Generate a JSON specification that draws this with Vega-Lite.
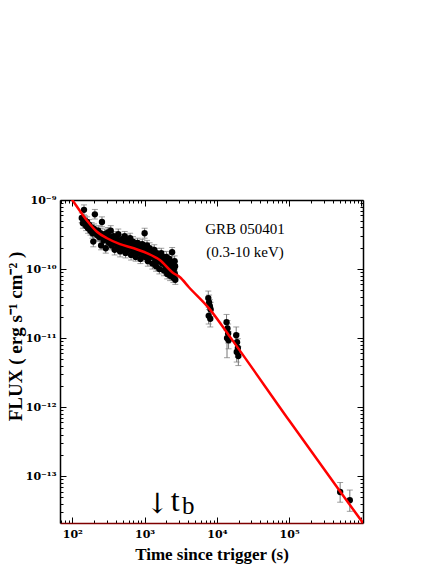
{
  "$schema": "https://vega.github.io/schema/vega-lite/v6.json",
  "width": 303,
  "height": 323,
  "autosize": {"type": "none"},
  "padding": {"left": 60, "top": 200, "right": 73, "bottom": 41},
  "background": "white",
  "config": {
    "view": {"stroke": null},
    "axis": {
      "grid": false,
      "domainColor": "black",
      "domainWidth": 1.5,
      "tickColor": "black",
      "tickWidth": 1,
      "labelFont": "DejaVu Serif",
      "labelFontWeight": "bold",
      "labelFontSize": 11,
      "labelColor": "black",
      "labelBound": false,
      "labelFlush": false,
      "labelOverlap": false,
      "titleFont": "Liberation Serif",
      "titleFontWeight": "bold",
      "titleFontSize": 17,
      "titleColor": "black"
    }
  },
  "datasets": {
    "pts": [
      {"t":135,"f":5.5e-10,"lo":4.7e-10,"hi":6.5e-10},
      {"t":140,"f":4.6e-10,"lo":3.9e-10,"hi":5.4e-10},
      {"t":145,"f":7.2e-10,"lo":6.1e-10,"hi":8.5e-10},
      {"t":150,"f":5.0e-10,"lo":4.25e-10,"hi":5.9e-10},
      {"t":155,"f":4.2e-10,"lo":3.6e-10,"hi":5.0e-10},
      {"t":160,"f":4.8e-10,"lo":4.1e-10,"hi":5.7e-10},
      {"t":165,"f":3.9e-10,"lo":3.3e-10,"hi":4.6e-10},
      {"t":170,"f":4.4e-10,"lo":3.7e-10,"hi":5.2e-10},
      {"t":178,"f":3.6e-10,"lo":3.1e-10,"hi":4.25e-10},
      {"t":185,"f":4.0e-10,"lo":3.4e-10,"hi":4.7e-10},
      {"t":190,"f":3.3e-10,"lo":2.8e-10,"hi":3.9e-10},
      {"t":195,"f":2.5e-10,"lo":2.1e-10,"hi":2.95e-10},
      {"t":200,"f":3.8e-10,"lo":3.2e-10,"hi":4.5e-10},
      {"t":205,"f":6.2e-10,"lo":5.3e-10,"hi":7.3e-10},
      {"t":210,"f":3.4e-10,"lo":2.9e-10,"hi":4.0e-10},
      {"t":220,"f":3.1e-10,"lo":2.6e-10,"hi":3.7e-10},
      {"t":228,"f":3.6e-10,"lo":3.1e-10,"hi":4.25e-10},
      {"t":236,"f":2.9e-10,"lo":2.5e-10,"hi":3.4e-10},
      {"t":245,"f":3.3e-10,"lo":2.8e-10,"hi":3.9e-10},
      {"t":250,"f":2.2e-10,"lo":1.9e-10,"hi":2.6e-10},
      {"t":257,"f":4.8e-10,"lo":4.1e-10,"hi":5.7e-10},
      {"t":262,"f":3.0e-10,"lo":2.55e-10,"hi":3.5e-10},
      {"t":270,"f":2.6e-10,"lo":2.2e-10,"hi":3.1e-10},
      {"t":280,"f":3.2e-10,"lo":2.7e-10,"hi":3.8e-10},
      {"t":290,"f":2.0e-10,"lo":1.7e-10,"hi":2.4e-10},
      {"t":300,"f":2.8e-10,"lo":2.4e-10,"hi":3.3e-10},
      {"t":310,"f":3.4e-10,"lo":2.9e-10,"hi":4.0e-10},
      {"t":320,"f":2.4e-10,"lo":2.0e-10,"hi":2.8e-10},
      {"t":330,"f":2.9e-10,"lo":2.5e-10,"hi":3.4e-10},
      {"t":340,"f":3.6e-10,"lo":3.1e-10,"hi":4.25e-10},
      {"t":350,"f":2.2e-10,"lo":1.9e-10,"hi":2.6e-10},
      {"t":360,"f":2.6e-10,"lo":2.2e-10,"hi":3.1e-10},
      {"t":372,"f":3.0e-10,"lo":2.55e-10,"hi":3.5e-10},
      {"t":385,"f":1.9e-10,"lo":1.6e-10,"hi":2.25e-10},
      {"t":395,"f":2.4e-10,"lo":2.0e-10,"hi":2.8e-10},
      {"t":408,"f":2.8e-10,"lo":2.4e-10,"hi":3.3e-10},
      {"t":420,"f":2.1e-10,"lo":1.8e-10,"hi":2.5e-10},
      {"t":432,"f":3.2e-10,"lo":2.7e-10,"hi":3.8e-10},
      {"t":445,"f":2.5e-10,"lo":2.1e-10,"hi":2.95e-10},
      {"t":458,"f":1.8e-10,"lo":1.5e-10,"hi":2.1e-10},
      {"t":470,"f":2.3e-10,"lo":1.95e-10,"hi":2.7e-10},
      {"t":485,"f":2.7e-10,"lo":2.3e-10,"hi":3.2e-10},
      {"t":500,"f":2.0e-10,"lo":1.7e-10,"hi":2.4e-10},
      {"t":515,"f":2.4e-10,"lo":2.0e-10,"hi":2.8e-10},
      {"t":530,"f":3.0e-10,"lo":2.55e-10,"hi":3.5e-10},
      {"t":545,"f":1.7e-10,"lo":1.45e-10,"hi":2.0e-10},
      {"t":560,"f":2.2e-10,"lo":1.9e-10,"hi":2.6e-10},
      {"t":578,"f":2.6e-10,"lo":2.2e-10,"hi":3.1e-10},
      {"t":595,"f":1.9e-10,"lo":1.6e-10,"hi":2.25e-10},
      {"t":612,"f":2.3e-10,"lo":1.95e-10,"hi":2.7e-10},
      {"t":630,"f":2.8e-10,"lo":2.4e-10,"hi":3.3e-10},
      {"t":650,"f":1.6e-10,"lo":1.35e-10,"hi":1.9e-10},
      {"t":670,"f":2.1e-10,"lo":1.8e-10,"hi":2.5e-10},
      {"t":690,"f":2.5e-10,"lo":2.1e-10,"hi":2.95e-10},
      {"t":710,"f":1.8e-10,"lo":1.5e-10,"hi":2.1e-10},
      {"t":730,"f":2.2e-10,"lo":1.9e-10,"hi":2.6e-10},
      {"t":752,"f":1.5e-10,"lo":1.3e-10,"hi":1.8e-10},
      {"t":775,"f":2.0e-10,"lo":1.7e-10,"hi":2.4e-10},
      {"t":800,"f":2.4e-10,"lo":2.0e-10,"hi":2.8e-10},
      {"t":825,"f":1.7e-10,"lo":1.45e-10,"hi":2.0e-10},
      {"t":850,"f":2.1e-10,"lo":1.8e-10,"hi":2.5e-10},
      {"t":875,"f":1.4e-10,"lo":1.2e-10,"hi":1.65e-10},
      {"t":900,"f":1.9e-10,"lo":1.6e-10,"hi":2.25e-10},
      {"t":930,"f":2.3e-10,"lo":1.95e-10,"hi":2.7e-10},
      {"t":960,"f":1.6e-10,"lo":1.35e-10,"hi":1.9e-10},
      {"t":990,"f":2.0e-10,"lo":1.7e-10,"hi":2.4e-10},
      {"t":1000,"f":3.3e-10,"lo":2.8e-10,"hi":3.9e-10},
      {"t":1020,"f":1.5e-10,"lo":1.3e-10,"hi":1.8e-10},
      {"t":1050,"f":1.8e-10,"lo":1.5e-10,"hi":2.1e-10},
      {"t":1080,"f":2.2e-10,"lo":1.9e-10,"hi":2.6e-10},
      {"t":1110,"f":1.3e-10,"lo":1.1e-10,"hi":1.55e-10},
      {"t":1140,"f":1.7e-10,"lo":1.45e-10,"hi":2.0e-10},
      {"t":1170,"f":2.0e-10,"lo":1.7e-10,"hi":2.4e-10},
      {"t":1200,"f":1.5e-10,"lo":1.3e-10,"hi":1.8e-10},
      {"t":1240,"f":1.8e-10,"lo":1.5e-10,"hi":2.1e-10},
      {"t":1280,"f":1.2e-10,"lo":1.0e-10,"hi":1.4e-10},
      {"t":1320,"f":1.6e-10,"lo":1.35e-10,"hi":1.9e-10},
      {"t":1360,"f":1.9e-10,"lo":1.6e-10,"hi":2.25e-10},
      {"t":1400,"f":1.4e-10,"lo":1.2e-10,"hi":1.65e-10},
      {"t":1440,"f":1.1e-10,"lo":0.93e-10,"hi":1.3e-10},
      {"t":1480,"f":1.7e-10,"lo":1.45e-10,"hi":2.0e-10},
      {"t":1520,"f":1.3e-10,"lo":1.1e-10,"hi":1.55e-10},
      {"t":1560,"f":1.5e-10,"lo":1.3e-10,"hi":1.8e-10},
      {"t":1600,"f":1.0e-10,"lo":0.85e-10,"hi":1.18e-10},
      {"t":1650,"f":1.4e-10,"lo":1.2e-10,"hi":1.65e-10},
      {"t":1700,"f":1.7e-10,"lo":1.45e-10,"hi":2.0e-10},
      {"t":1750,"f":1.2e-10,"lo":1.0e-10,"hi":1.4e-10},
      {"t":1800,"f":1.5e-10,"lo":1.3e-10,"hi":1.8e-10},
      {"t":1850,"f":0.95e-10,"lo":0.8e-10,"hi":1.12e-10},
      {"t":1900,"f":1.3e-10,"lo":1.1e-10,"hi":1.55e-10},
      {"t":1950,"f":1.1e-10,"lo":0.93e-10,"hi":1.3e-10},
      {"t":2000,"f":1.5e-10,"lo":1.3e-10,"hi":1.8e-10},
      {"t":2050,"f":0.85e-10,"lo":0.72e-10,"hi":1.0e-10},
      {"t":2100,"f":1.2e-10,"lo":1.0e-10,"hi":1.4e-10},
      {"t":2150,"f":1.0e-10,"lo":0.85e-10,"hi":1.18e-10},
      {"t":2200,"f":1.4e-10,"lo":1.2e-10,"hi":1.65e-10},
      {"t":2250,"f":0.8e-10,"lo":0.68e-10,"hi":0.95e-10},
      {"t":2300,"f":1.1e-10,"lo":0.93e-10,"hi":1.3e-10},
      {"t":2350,"f":0.9e-10,"lo":0.76e-10,"hi":1.06e-10},
      {"t":2400,"f":1.75e-10,"lo":1.5e-10,"hi":2.05e-10},
      {"t":2450,"f":1.2e-10,"lo":1.0e-10,"hi":1.4e-10},
      {"t":2500,"f":0.75e-10,"lo":0.64e-10,"hi":0.89e-10},
      {"t":2550,"f":1.0e-10,"lo":0.85e-10,"hi":1.18e-10},
      {"t":2600,"f":1.3e-10,"lo":1.1e-10,"hi":1.55e-10},
      {"t":2620,"f":0.85e-10,"lo":0.72e-10,"hi":1.0e-10},
      {"t":2640,"f":1.1e-10,"lo":0.93e-10,"hi":1.3e-10},
      {"t":2660,"f":0.7e-10,"lo":0.6e-10,"hi":0.83e-10},
      {"t":7600,"f":3.8e-11,"lo":3.0e-11,"hi":4.8e-11},
      {"t":7800,"f":3.3e-11,"lo":2.6e-11,"hi":4.2e-11},
      {"t":8000,"f":2.9e-11,"lo":2.3e-11,"hi":3.6e-11},
      {"t":8200,"f":2.6e-11,"lo":2.05e-11,"hi":3.3e-11},
      {"t":7700,"f":2.1e-11,"lo":1.6e-11,"hi":2.8e-11},
      {"t":8100,"f":1.9e-11,"lo":1.45e-11,"hi":2.5e-11},
      {"t":13600,"f":1.7e-11,"lo":1.3e-11,"hi":2.2e-11},
      {"t":14000,"f":1.38e-11,"lo":1.0e-11,"hi":1.8e-11},
      {"t":14300,"f":1.17e-11,"lo":0.85e-11,"hi":1.6e-11},
      {"t":13800,"f":1.0e-11,"lo":0.52e-11,"hi":1.4e-11},
      {"t":14500,"f":0.93e-11,"lo":0.7e-11,"hi":1.25e-11},
      {"t":18500,"f":1.1e-11,"lo":0.85e-11,"hi":1.45e-11},
      {"t":19000,"f":8.7e-12,"lo":6.5e-12,"hi":11.5e-12},
      {"t":19500,"f":7.2e-12,"lo":5.3e-12,"hi":9.8e-12},
      {"t":18800,"f":6.3e-12,"lo":4.5e-12,"hi":8.7e-12},
      {"t":19800,"f":5.5e-12,"lo":4.0e-12,"hi":7.5e-12},
      {"t":507000,"f":5.9e-14,"lo":4.2e-14,"hi":8.1e-14},
      {"t":690000,"f":4.5e-14,"lo":3.1e-14,"hi":6.3e-14}
    ],
    "model": [
      {"t":90,"f":1.17e-9},
      {"t":100,"f":1.0e-9},
      {"t":158,"f":5.1e-10},
      {"t":219,"f":3.47e-10},
      {"t":302,"f":2.79e-10},
      {"t":457,"f":2.29e-10},
      {"t":708,"f":2.0e-10},
      {"t":1070,"f":1.7e-10},
      {"t":1620,"f":1.35e-10},
      {"t":2510,"f":8.7e-11},
      {"t":3090,"f":7.6e-11},
      {"t":4070,"f":5.5e-11},
      {"t":7940,"f":2.63e-11},
      {"t":15100,"f":1.05e-11},
      {"t":100000,"f":6.4e-13},
      {"t":507000,"f":6.0e-14},
      {"t":1050000,"f":2.1e-14}
    ]
  },
  "layer": [
    {
      "data": {"name": "pts"},
      "mark": {"type": "errorbar", "ticks": {"size": 6, "color": "#777777"}, "color": "#777777", "thickness": 1},
      "encoding": {
        "x": {"field": "t", "type": "quantitative", "scale": {"type": "log", "domain": [67.5, 1050000], "nice": false}, "axis": null},
        "y": {"field": "lo", "type": "quantitative", "scale": {"type": "log", "domain": [2.1e-14, 1e-9], "nice": false}, "axis": null},
        "y2": {"field": "hi"}
      }
    },
    {
      "data": {"name": "pts"},
      "mark": {"type": "point", "filled": true, "color": "black", "opacity": 1, "size": 40},
      "encoding": {
        "x": {"field": "t", "type": "quantitative", "scale": {"type": "log", "domain": [67.5, 1050000], "nice": false},
          "axis": {"orient": "bottom", "title": "Time since trigger (s)", "titleY": 31, "titleBaseline": "middle",
            "values": [70,80,90,100,200,300,400,500,600,700,800,900,1000,2000,3000,4000,5000,6000,7000,8000,9000,10000,20000,30000,40000,50000,60000,70000,80000,90000,100000,200000,300000,400000,500000,600000,700000,800000,900000,1000000],
            "labelExpr": "datum.value===100?'10²':datum.value===1000?'10³':datum.value===10000?'10⁴':datum.value===100000?'10⁵':''",
            "tickSize": {"condition": {"test": "abs(log(datum.value)/LN10 - round(log(datum.value)/LN10)) < 0.001", "value": -6}, "value": -3},
            "labelPadding": 11, "domainColor": "#7f0000"}},
        "y": {"field": "f", "type": "quantitative", "scale": {"type": "log", "domain": [2.1e-14, 1e-9], "nice": false},
          "axis": {"orient": "left", "title": "FLUX ( erg  s⁻¹  cm⁻²  )", "titleX": -35, "titleY": 136, "titleFontSize": 19,
            "values": [2e-14,3e-14,4e-14,5e-14,6e-14,7e-14,8e-14,9e-14,1e-13,2e-13,3e-13,4e-13,5e-13,6e-13,7e-13,8e-13,9e-13,1e-12,2e-12,3e-12,4e-12,5e-12,6e-12,7e-12,8e-12,9e-12,1e-11,2e-11,3e-11,4e-11,5e-11,6e-11,7e-11,8e-11,9e-11,1e-10,2e-10,3e-10,4e-10,5e-10,6e-10,7e-10,8e-10,9e-10,1e-9],
            "labelExpr": "datum.value===1e-9?'10⁻⁹':datum.value===1e-10?'10⁻¹⁰':datum.value===1e-11?'10⁻¹¹':datum.value===1e-12?'10⁻¹²':datum.value===1e-13?'10⁻¹³':''",
            "tickSize": {"condition": {"test": "abs(log(datum.value)/LN10 - round(log(datum.value)/LN10)) < 0.001", "value": -6}, "value": -3},
            "labelPadding": 10}}
      }
    },
    {
      "data": {"name": "model"},
      "mark": {"type": "line", "color": "#ff0000", "strokeWidth": 2.5, "interpolate": "monotone", "clip": true},
      "encoding": {
        "x": {"field": "t", "type": "quantitative", "scale": {"type": "log", "domain": [67.5, 1050000], "nice": false},
          "axis": {"orient": "top", "title": null, "labels": false,
            "values": [70,80,90,100,200,300,400,500,600,700,800,900,1000,2000,3000,4000,5000,6000,7000,8000,9000,10000,20000,30000,40000,50000,60000,70000,80000,90000,100000,200000,300000,400000,500000,600000,700000,800000,900000,1000000],
            "tickSize": {"condition": {"test": "abs(log(datum.value)/LN10 - round(log(datum.value)/LN10)) < 0.001", "value": -6}, "value": -3}}},
        "y": {"field": "f", "type": "quantitative", "scale": {"type": "log", "domain": [2.1e-14, 1e-9], "nice": false},
          "axis": {"orient": "right", "title": null, "labels": false,
            "values": [2e-14,3e-14,4e-14,5e-14,6e-14,7e-14,8e-14,9e-14,1e-13,2e-13,3e-13,4e-13,5e-13,6e-13,7e-13,8e-13,9e-13,1e-12,2e-12,3e-12,4e-12,5e-12,6e-12,7e-12,8e-12,9e-12,1e-11,2e-11,3e-11,4e-11,5e-11,6e-11,7e-11,8e-11,9e-11,1e-10,2e-10,3e-10,4e-10,5e-10,6e-10,7e-10,8e-10,9e-10,1e-9],
            "tickSize": {"condition": {"test": "abs(log(datum.value)/LN10 - round(log(datum.value)/LN10)) < 0.001", "value": -6}, "value": -3}}}
      }
    },
    {
      "data": {"values": [{"t": 24500, "f": 3.8e-10, "label": "GRB 050401"}, {"t": 24500, "f": 1.76e-10, "label": "(0.3-10 keV)"}]},
      "mark": {"type": "text", "font": "Liberation Serif", "fontSize": 15, "color": "black", "align": "center", "baseline": "middle"},
      "encoding": {
        "x": {"field": "t", "type": "quantitative", "scale": {"type": "log", "domain": [67.5, 1050000], "nice": false}, "axis": null},
        "y": {"field": "f", "type": "quantitative", "scale": {"type": "log", "domain": [2.1e-14, 1e-9], "nice": false}, "axis": null},
        "text": {"field": "label"}
      }
    },
    {
      "data": {"values": [{"t": 1500, "f": 2.95e-14, "label": "↓"}]},
      "mark": {"type": "text", "font": "DejaVu Serif", "fontSize": 28, "fontWeight": "normal", "color": "black", "align": "center", "baseline": "alphabetic"},
      "encoding": {
        "x": {"field": "t", "type": "quantitative", "scale": {"type": "log", "domain": [67.5, 1050000], "nice": false}, "axis": null},
        "y": {"field": "f", "type": "quantitative", "scale": {"type": "log", "domain": [2.1e-14, 1e-9], "nice": false}, "axis": null},
        "text": {"field": "label"}
      }
    },
    {
      "data": {"values": [{"t": 2650, "f": 3.1e-14, "label": "t"}]},
      "mark": {"type": "text", "font": "Liberation Serif", "fontSize": 32, "color": "black", "align": "center", "baseline": "alphabetic"},
      "encoding": {
        "x": {"field": "t", "type": "quantitative", "scale": {"type": "log", "domain": [67.5, 1050000], "nice": false}, "axis": null},
        "y": {"field": "f", "type": "quantitative", "scale": {"type": "log", "domain": [2.1e-14, 1e-9], "nice": false}, "axis": null},
        "text": {"field": "label"}
      }
    },
    {
      "data": {"values": [{"t": 4000, "f": 2.8e-14, "label": "b"}]},
      "mark": {"type": "text", "font": "Liberation Serif", "fontSize": 25, "color": "black", "align": "center", "baseline": "alphabetic"},
      "encoding": {
        "x": {"field": "t", "type": "quantitative", "scale": {"type": "log", "domain": [67.5, 1050000], "nice": false}, "axis": null},
        "y": {"field": "f", "type": "quantitative", "scale": {"type": "log", "domain": [2.1e-14, 1e-9], "nice": false}, "axis": null},
        "text": {"field": "label"}
      }
    }
  ],
  "resolve": {"axis": {"x": "independent", "y": "independent"}}
}
